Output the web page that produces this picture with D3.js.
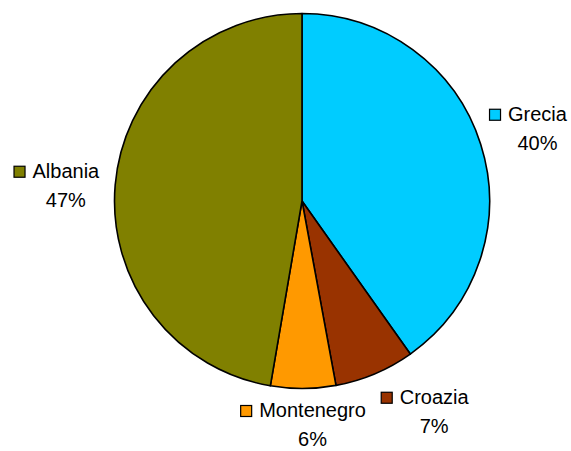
<!DOCTYPE html>
<html>
<head>
<meta charset="utf-8">
<script src="https://cdn.jsdelivr.net/npm/d3@7/dist/d3.min.js"></script>
<style>
  html, body { margin: 0; padding: 0; background: #fff; }
  svg { display: block; }
  text { font-family: "Liberation Sans", Arial, sans-serif; fill: #000; }
</style>
</head>
<body>
<svg id="chart" width="571" height="451"></svg>
<script>
// Share of each country (in percent), clockwise from 12 o'clock
const countries = ["Grecia", "Croazia", "Montenegro", "Albania"];
const shares = [40.2, 6.9, 5.6, 47.3];
const colors = ["#00CCFF", "#993300", "#FF9900", "#808000"];

// Label placement tweaks around the pie, in pixels
const labelNudge = [[2, 2], [37, -15], [9, -21], [8, 5.5]];

const width = 571, height = 451;
const cx = 302, cy = 201, radius = 187.5, labelRadius = 245;

const svg = d3.select("#chart");
const g = svg.append("g").attr("transform", `translate(${cx},${cy})`);

const data = countries.map((name, i) => ({ name, value: shares[i], color: colors[i], nudge: labelNudge[i] }));
const total = d3.sum(shares);

const pie = d3.pie().value(d => d.value).sort(null);
const arcs = pie(data);

const arc = d3.arc().innerRadius(0).outerRadius(radius);
const labelArc = d3.arc().innerRadius(labelRadius).outerRadius(labelRadius);

g.selectAll("path.slice")
  .data(arcs)
  .join("path")
  .attr("class", "slice")
  .attr("d", arc)
  .attr("fill", d => d.data.color)
  .attr("stroke", "#000")
  .attr("stroke-width", 1.6)
  .attr("stroke-linejoin", "round");

const fmt = v => Math.round(v / total * 100) + "%";
const fontSize = 20;

const labels = g.selectAll("g.label")
  .data(arcs)
  .join("g")
  .attr("class", "label")
  .attr("transform", d => {
    const [x, y] = labelArc.centroid(d);
    return `translate(${x + d.data.nudge[0]},${y + d.data.nudge[1]})`;
  });

labels.append("text")
  .attr("class", "name")
  .attr("text-anchor", "middle")
  .attr("y", -8)
  .style("font-size", fontSize + "px")
  .text(d => d.data.name);

labels.append("text")
  .attr("class", "pct")
  .attr("text-anchor", "middle")
  .attr("y", 21)
  .style("font-size", fontSize + "px")
  .text(d => fmt(d.data.value));

// Colour key square drawn left of each name
labels.each(function() {
  const grp = d3.select(this);
  const bb = grp.select("text.name").node().getBBox();
  grp.append("rect")
    .attr("x", bb.x - 18.5)
    .attr("y", -19.5)
    .attr("width", 11)
    .attr("height", 11)
    .attr("fill", d => d.data.color)
    .attr("stroke", "#000")
    .attr("stroke-width", 1.2);
});
</script>
</body>
</html>
